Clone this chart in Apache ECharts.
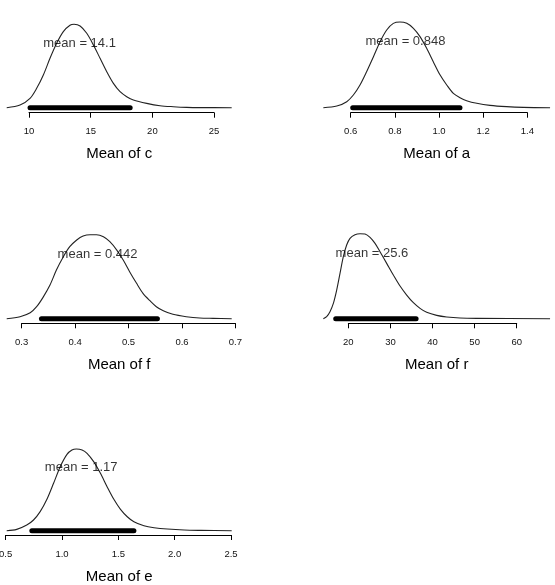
<!DOCTYPE html>
<html>
<head>
<meta charset="utf-8">
<script src="https://cdn.jsdelivr.net/npm/echarts@6/dist/echarts.min.js"></script>
<style>html,body{margin:0;padding:0;background:#fff}#chart{width:555px;height:585px}</style>
</head>
<body>
<div id="chart"></div>
<script>
// ---- data ----
const paramNames = ['c', 'a', 'f', 'r', 'e'];
const means = [14.1, 0.848, 0.442, 25.6, 1.17];
const hdiLow = [10.08, 0.609, 0.337, 17.0, 0.732];
const hdiHigh = [18.2, 1.095, 0.554, 36.1, 1.638];

// relative posterior density (peak = 1)
const curveC = [[8.19,0],[9.27,0.032],[10.08,0.112],[10.62,0.232],[11.16,0.392],[11.70,0.592],[12.24,0.772],[12.78,0.912],[13.32,0.988],[13.65,1.0],[14.14,0.98],[14.68,0.892],[15.22,0.752],[15.76,0.592],[16.30,0.432],[16.84,0.292],[17.38,0.192],[17.92,0.132],[18.46,0.092],[19.54,0.052],[20.62,0.024],[21.70,0.012],[22.78,0.004],[23.86,0.001],[26.43,0]];
const curveA = [[0.476,0],[0.537,0.019],[0.582,0.07],[0.612,0.148],[0.642,0.265],[0.672,0.42],[0.703,0.595],[0.733,0.77],[0.763,0.907],[0.793,0.984],[0.823,1.0],[0.854,0.984],[0.884,0.926],[0.914,0.829],[0.944,0.693],[0.974,0.537],[1.005,0.381],[1.035,0.265],[1.065,0.167],[1.095,0.117],[1.125,0.082],[1.171,0.051],[1.231,0.027],[1.306,0.012],[1.382,0.004],[1.503,0]];
const curveF = [[0.272,0],[0.297,0.024],[0.316,0.071],[0.328,0.143],[0.340,0.254],[0.353,0.401],[0.365,0.579],[0.378,0.738],[0.390,0.857],[0.403,0.937],[0.415,0.984],[0.428,1.0],[0.440,1.0],[0.453,0.976],[0.465,0.917],[0.478,0.817],[0.490,0.698],[0.502,0.56],[0.515,0.421],[0.527,0.302],[0.540,0.214],[0.552,0.143],[0.565,0.095],[0.583,0.052],[0.608,0.024],[0.633,0.008],[0.658,0.004],[0.693,0]];
const curveR = [[14.06,0],[14.85,0.024],[15.64,0.082],[16.44,0.18],[17.23,0.337],[18.02,0.533],[18.81,0.729],[19.60,0.867],[20.40,0.945],[21.58,0.988],[22.77,1.0],[23.96,0.996],[25.15,0.957],[26.34,0.886],[27.52,0.788],[29.11,0.651],[30.69,0.514],[32.28,0.384],[33.86,0.278],[35.45,0.188],[37.03,0.122],[38.61,0.075],[40.99,0.039],[43.37,0.02],[46.53,0.008],[50.50,0.004],[67.92,0]];
const curveE = [[0.509,0],[0.598,0.016],[0.687,0.069],[0.747,0.131],[0.806,0.233],[0.866,0.384],[0.925,0.58],[0.984,0.784],[1.044,0.935],[1.088,0.988],[1.127,1.0],[1.178,0.988],[1.222,0.947],[1.281,0.845],[1.341,0.702],[1.400,0.539],[1.460,0.384],[1.519,0.261],[1.579,0.171],[1.638,0.11],[1.727,0.061],[1.817,0.037],[1.935,0.02],[2.084,0.008],[2.233,0.004],[2.506,0]];
const curves = [curveC, curveA, curveF, curveR, curveE];

// tick values and labels
const ticksC = [10, 15, 20, 25];
const ticksA = [0.6, 0.8, 1.0, 1.2, 1.4];
const ticksF = [0.3, 0.4, 0.5, 0.6, 0.7];
const ticksR = [20, 30, 40, 50, 60];
const ticksE = [0.5, 1.0, 1.5, 2.0, 2.5];
const tickLabelsC = ['10', '15', '20', '25'];
const tickLabelsA = ['0.6', '0.8', '1.0', '1.2', '1.4'];
const tickLabelsF = ['0.3', '0.4', '0.5', '0.6', '0.7'];
const tickLabelsR = ['20', '30', '40', '50', '60'];
const tickLabelsE = ['0.5', '1.0', '1.5', '2.0', '2.5'];
const ticks = [ticksC, ticksA, ticksF, ticksR, ticksE];
const tickLabels = [tickLabelsC, tickLabelsA, tickLabelsF, tickLabelsR, tickLabelsE];

// ---- layout (pixels) ----
const colX = [[2.2, 236.2], [318.8, 554.6]];
const panelCol = [0, 1, 0, 1, 0];
const baseY = [107.7, 107.7, 318.7, 318.7, 530.7];
const peakY = [24.3, 22.0, 234.7, 233.7, 449.0];
const axisY = [112.7, 112.7, 323.3, 323.3, 535.0];
const TEXT_LEVEL = 0.77;
const FONT = 'Liberation Sans, Arial, Helvetica, sans-serif';

const option = {
  backgroundColor: '#fff',
  animation: false,
  textStyle: { fontFamily: FONT },
  grid: [], xAxis: [], yAxis: [], series: []
};

curves.forEach((curve, i) => {
  const xs = curve.map(d => d[0]);
  const xmin = Math.min(...xs), xmax = Math.max(...xs);
  const ext = 0.02 * (xmax - xmin);
  const lo = xmin - ext, hi = xmax + ext;
  const [L, R] = colX[panelCol[i]];
  const px = v => L + (v - lo) / (hi - lo) * (R - L);
  const t = ticks[i];
  const interval = t[1] - t[0];
  const t0 = t[0], t1 = t[t.length - 1];

  option.grid.push({ left: L, top: peakY[i], width: R - L, height: baseY[i] - peakY[i], outerBoundsMode: 'none', containLabel: false });
  option.grid.push({ left: px(t0), top: axisY[i] - 10, width: px(t1) - px(t0), height: 10, outerBoundsMode: 'none', containLabel: false });

  option.xAxis.push({
    type: 'value', gridIndex: 2 * i, min: lo, max: hi,
    axisLine: { show: false }, axisTick: { show: false }, axisLabel: { show: false }, splitLine: { show: false },
    name: 'Mean of ' + paramNames[i], nameLocation: 'middle', nameGap: 39,
    nameTextStyle: { fontSize: 15, color: '#000', fontFamily: FONT }
  });
  option.xAxis.push({
    type: 'value', gridIndex: 2 * i + 1, min: t0, max: t1, interval: interval,
    axisLine: { show: true, lineStyle: { color: '#000', width: 1 } },
    axisTick: { show: true, length: 5, lineStyle: { color: '#000', width: 1 } },
    axisLabel: {
      show: true, fontSize: 9.5, color: '#111', margin: 14, fontFamily: FONT,
      showMinLabel: true, showMaxLabel: true, hideOverlap: false,
      formatter: v => tickLabels[i][Math.round((v - t0) / interval)]
    },
    splitLine: { show: false }
  });
  option.yAxis.push({ type: 'value', gridIndex: 2 * i, min: 0, max: 1, show: false });
  option.yAxis.push({ type: 'value', gridIndex: 2 * i + 1, min: 0, max: 1, show: false });

  option.series.push({
    type: 'line', xAxisIndex: 2 * i, yAxisIndex: 2 * i, data: curve,
    smooth: 0.3, symbol: 'none', clip: false,
    lineStyle: { color: '#222', width: 1.1 }
  });
  option.series.push({
    type: 'line', xAxisIndex: 2 * i, yAxisIndex: 2 * i,
    data: [[hdiLow[i], 0], [hdiHigh[i], 0]],
    symbol: 'none', clip: false, z: 3,
    lineStyle: { color: '#000', width: 5, cap: 'round' }
  });
  option.series.push({
    type: 'scatter', xAxisIndex: 2 * i, yAxisIndex: 2 * i,
    data: [[means[i], TEXT_LEVEL]], symbolSize: 1, clip: false, z: 4,
    itemStyle: { color: 'rgba(0,0,0,0)' },
    label: {
      show: true, position: 'inside', formatter: 'mean = ' + means[i],
      fontSize: 13, color: '#000', fontFamily: FONT
    }
  });
});

const chart = echarts.init(document.getElementById('chart'), null, { renderer: 'canvas' });
chart.setOption(option);
</script>
</body>
</html>
